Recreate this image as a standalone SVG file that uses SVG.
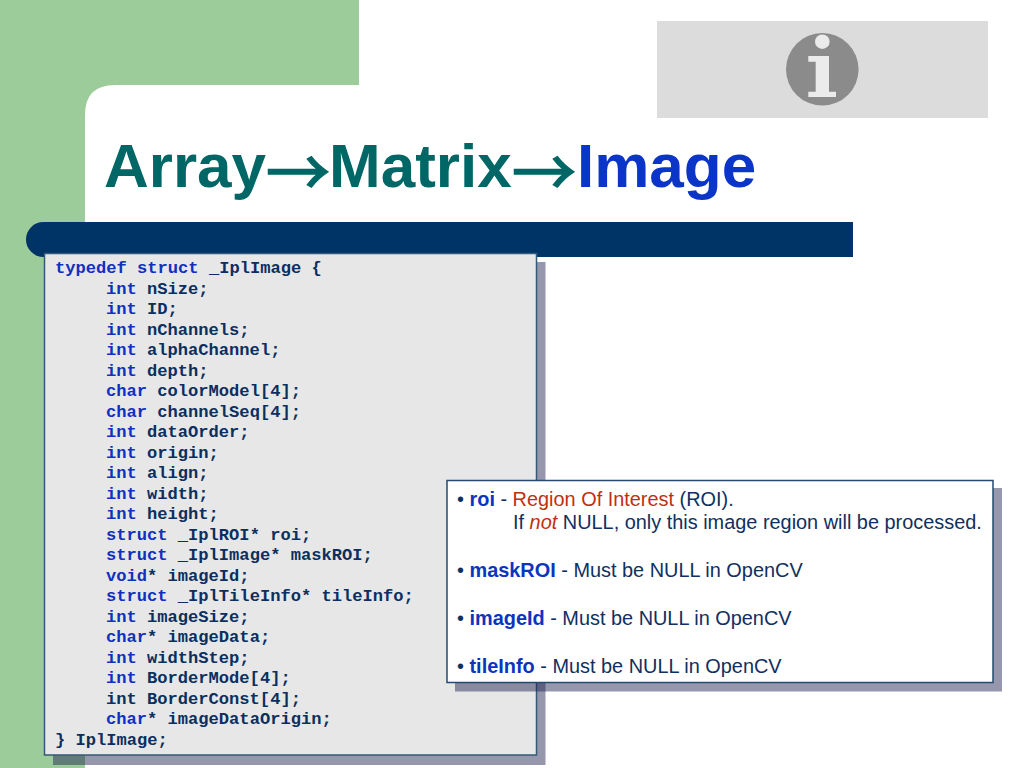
<svg xmlns="http://www.w3.org/2000/svg" width="1024" height="768" viewBox="0 0 1024 768">
<style>
.c{font:bold 17.1px "Liberation Mono",monospace;fill:#0a2f60;white-space:pre}
.k{fill:#1030c0}
.t{font:19.9px "Liberation Sans",Arial,sans-serif;fill:#0f3060}
.b{font-weight:bold;fill:#0b35c0}
.r{fill:#c03010}
.h{font:bold 62px "Liberation Sans",Arial,sans-serif;fill:#006666}
.a{font:64px "Noto Sans CJK JP",sans-serif;fill:#006666;stroke:#006666;stroke-width:1.6}
.s{fill:#1f2350;fill-opacity:.47}
</style>
<rect width="1024" height="768" fill="#fff"/>
<rect id="green-left" x="0" y="0" width="85" height="768" fill="#9bcc9a"/>
<path id="green-top" d="M0 0H359V85H115Q85 85 85 115V225H0Z" fill="#9bcc9a"/>
<g id="info-icon">
<rect x="657" y="21" width="331" height="97" fill="#dcdcdc"/>
<circle cx="822.300" cy="69.300" r="36.300" fill="#8b8b8b"/>
<circle cx="822.300" cy="41.700" r="7.300" fill="#ebebeb"/>
<path d="M808.300 56H829V91.700H836V97H808.300V91.700H815.700V61.700H808.300Z" fill="#ebebeb"/>
</g>
<g id="title">
<text class="h" x="104" y="187">Array</text>
<text class="a" x="266" y="196">→</text>
<text class="h" x="329" y="187">Matrix</text>
<text class="a" x="512" y="196">→</text>
<text class="h" x="577" y="187" style="fill:#0b35c8">Image</text>
</g>
<path id="bar" d="M43.500 222H853V257H43.500A17.500 17.500 0 0 1 43.500 222Z" fill="#003366"/>
<g id="code-box">
<rect class="s" x="53" y="262" width="492.500" height="503"/>
<rect x="44.500" y="253.500" width="492" height="501.500" fill="#e7e7e7" stroke="#345a78" stroke-width="1.500"/>
<text class="c" x="55" y="273"><tspan class="k">typedef struct</tspan> _IplImage {</text>
<text class="c" x="106" y="293.500"><tspan class="k">int</tspan> nSize;</text>
<text class="c" x="106" y="314"><tspan class="k">int</tspan> ID;</text>
<text class="c" x="106" y="334.500"><tspan class="k">int</tspan> nChannels;</text>
<text class="c" x="106" y="355"><tspan class="k">int</tspan> alphaChannel;</text>
<text class="c" x="106" y="375.500"><tspan class="k">int</tspan> depth;</text>
<text class="c" x="106" y="396"><tspan class="k">char</tspan> colorModel[4];</text>
<text class="c" x="106" y="416.500"><tspan class="k">char</tspan> channelSeq[4];</text>
<text class="c" x="106" y="437"><tspan class="k">int</tspan> dataOrder;</text>
<text class="c" x="106" y="457.500"><tspan class="k">int</tspan> origin;</text>
<text class="c" x="106" y="478"><tspan class="k">int</tspan> align;</text>
<text class="c" x="106" y="498.500"><tspan class="k">int</tspan> width;</text>
<text class="c" x="106" y="519"><tspan class="k">int</tspan> height;</text>
<text class="c" x="106" y="539.500"><tspan class="k">struct</tspan> _IplROI* roi;</text>
<text class="c" x="106" y="560"><tspan class="k">struct</tspan> _IplImage* maskROI;</text>
<text class="c" x="106" y="580.500"><tspan class="k">void</tspan>* imageId;</text>
<text class="c" x="106" y="601"><tspan class="k">struct</tspan> _IplTileInfo* tileInfo;</text>
<text class="c" x="106" y="621.500"><tspan class="k">int</tspan> imageSize;</text>
<text class="c" x="106" y="642"><tspan class="k">char</tspan>* imageData;</text>
<text class="c" x="106" y="662.500"><tspan class="k">int</tspan> widthStep;</text>
<text class="c" x="106" y="683"><tspan class="k">int</tspan> BorderMode[4];</text>
<text class="c" x="106" y="703.500">int BorderConst[4];</text>
<text class="c" x="106" y="724"><tspan class="k">char</tspan>* imageDataOrigin;</text>
<text class="c" x="55" y="744.500">} IplImage;</text>
</g>
<g id="note-box">
<rect class="s" x="455" y="488" width="547" height="203.500"/>
<rect x="447" y="480.500" width="546" height="202" fill="#fff" stroke="#234a70" stroke-width="1.500"/>
<text class="t" x="457" y="506">• <tspan class="b">roi</tspan> - <tspan class="r">Region Of Interest</tspan> (ROI).</text>
<text class="t" x="513" y="529">If <tspan class="r" font-style="italic">not</tspan> NULL, only this image region will be processed.</text>
<text class="t" x="457" y="577">• <tspan class="b">maskROI</tspan> - Must be NULL in OpenCV</text>
<text class="t" x="457" y="625">• <tspan class="b">imageId</tspan> - Must be NULL in OpenCV</text>
<text class="t" x="457" y="673">• <tspan class="b">tileInfo</tspan> - Must be NULL in OpenCV</text>
</g>
</svg>
